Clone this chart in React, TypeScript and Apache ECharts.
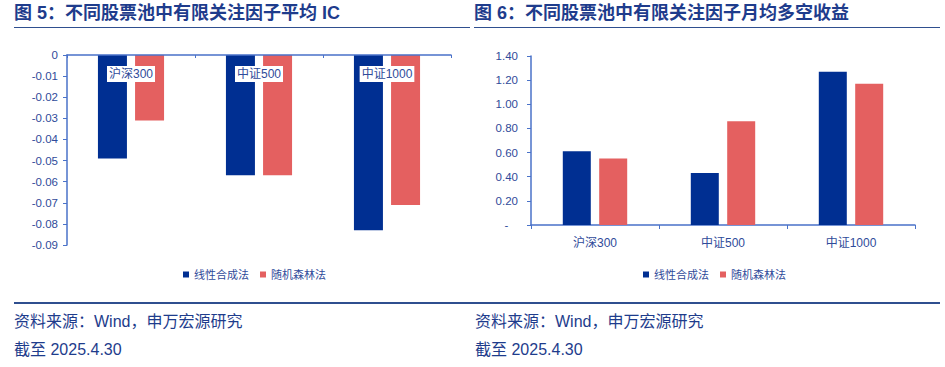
import React, { useEffect, useRef } from "react";
import * as echarts from "echarts";

const categories = ["沪深300", "中证500", "中证1000"];
const seriesNames = ["线性合成法", "随机森林法"];
const icLinear = [-0.049, -0.057, -0.083];
const icForest = [-0.031, -0.057, -0.071];
const retLinear = [0.61, 0.43, 1.27];
const retForest = [0.55, 0.86, 1.17];
const titleLeft = "图 5：不同股票池中有限关注因子平均 IC";
const titleRight = "图 6：不同股票池中有限关注因子月均多空收益";
const sourceText = "资料来源：Wind，申万宏源研究";
const dateText = "截至 2025.4.30";

const BLUE = "#002f92";
const RED = "#e46060";
const AXIS = "#4a72c9";
const LABEL = "#2f4b9a";
const TITLE = "#1e3c8c";
const FONT = "'Liberation Sans', Arial, 'Noto Sans CJK SC', sans-serif";

export default function App() {
  const ref = useRef<HTMLDivElement>(null);
  useEffect(() => {
    const chart = echarts.init(ref.current!, null, { renderer: "svg" });
    const axisLabelBase = { color: LABEL, fontSize: 11, fontFamily: FONT };
    const legendBase = {
      data: seriesNames,
      top: 264,
      itemWidth: 6,
      itemHeight: 6,
      itemGap: 11,
      icon: "rect",
      textStyle: { color: LABEL, fontSize: 11, fontFamily: FONT },
    };
    chart.setOption({
      animation: false,
      textStyle: { fontFamily: FONT },
      grid: [
        { left: 67, right: 494, top: 55, bottom: 122 },
        { left: 531, right: 30, top: 56, bottom: 142 },
      ],
      xAxis: [
        {
          type: "category",
          gridIndex: 0,
          data: categories,
          position: "top",
          z: 10,
          axisLine: { lineStyle: { color: AXIS, width: 1.5 } },
          axisTick: { show: true, length: 3, inside: true, lineStyle: { color: AXIS } },
          axisLabel: {
            ...axisLabelBase,
            fontSize: 12,
            inside: true,
            margin: 11,
            backgroundColor: "#ffffff",
            padding: [2, 2, 2, 2],
          },
        },
        {
          type: "category",
          gridIndex: 1,
          data: categories,
          axisLine: { lineStyle: { color: AXIS, width: 1.5 } },
          axisTick: { show: true, length: 4, lineStyle: { color: AXIS } },
          axisLabel: { ...axisLabelBase, fontSize: 12, margin: 12 },
        },
      ],
      yAxis: [
        {
          type: "value",
          gridIndex: 0,
          min: -0.09,
          max: 0,
          interval: 0.01,
          splitLine: { show: false },
          axisLine: { show: true, lineStyle: { color: AXIS, width: 1.5 } },
          axisTick: { show: true, length: 4, lineStyle: { color: AXIS } },
          axisLabel: {
            ...axisLabelBase,
            fontSize: 11.5,
            margin: 9,
            formatter: (v: number) => (Math.abs(v) < 1e-9 ? "0" : v.toFixed(2)),
          },
        },
        {
          type: "value",
          gridIndex: 1,
          min: 0,
          max: 1.4,
          interval: 0.2,
          splitLine: { show: false },
          axisLine: { show: true, lineStyle: { color: AXIS, width: 1.5 } },
          axisTick: { show: true, length: 4, lineStyle: { color: AXIS } },
          axisLabel: {
            ...axisLabelBase,
            fontSize: 11.5,
            margin: 13,
            formatter: (v: number) => (Math.abs(v) < 1e-9 ? "-   " : v.toFixed(2)),
          },
        },
      ],
      legend: [
        { ...legendBase, left: 178 },
        { ...legendBase, left: 638 },
      ],
      series: [
        {
          name: seriesNames[0],
          type: "bar",
          xAxisIndex: 0,
          yAxisIndex: 0,
          data: icLinear,
          barWidth: 29,
          barGap: "28%",
          itemStyle: { color: BLUE },
        },
        {
          name: seriesNames[1],
          type: "bar",
          xAxisIndex: 0,
          yAxisIndex: 0,
          data: icForest,
          barWidth: 29,
          barGap: "28%",
          itemStyle: { color: RED },
        },
        {
          name: seriesNames[0],
          type: "bar",
          xAxisIndex: 1,
          yAxisIndex: 1,
          data: retLinear,
          barWidth: 28,
          barGap: "30%",
          itemStyle: { color: BLUE },
        },
        {
          name: seriesNames[1],
          type: "bar",
          xAxisIndex: 1,
          yAxisIndex: 1,
          data: retForest,
          barWidth: 28,
          barGap: "30%",
          itemStyle: { color: RED },
        },
      ],
      graphic: [
        {
          type: "text",
          left: 14,
          top: 4,
          style: { text: titleLeft, fill: TITLE, font: `bold 18px ${FONT}` },
        },
        {
          type: "text",
          left: 474,
          top: 4,
          style: { text: titleRight, fill: TITLE, font: `bold 18px ${FONT}` },
        },
        { type: "line", shape: { x1: 14, y1: 27.5, x2: 470, y2: 27.5 }, style: { stroke: "#2f4f8f", lineWidth: 1 } },
        { type: "line", shape: { x1: 474, y1: 27.5, x2: 940, y2: 27.5 }, style: { stroke: "#2f4f8f", lineWidth: 1 } },
        { type: "line", shape: { x1: 14, y1: 303, x2: 470, y2: 303 }, style: { stroke: "#2f4f8f", lineWidth: 2 } },
        { type: "line", shape: { x1: 470, y1: 303, x2: 940, y2: 303 }, style: { stroke: "#2f4f8f", lineWidth: 2 } },
        {
          type: "text",
          left: 14,
          top: 313,
          style: { text: sourceText, fill: TITLE, font: `16px ${FONT}` },
        },
        {
          type: "text",
          left: 475,
          top: 313,
          style: { text: sourceText, fill: TITLE, font: `16px ${FONT}` },
        },
        {
          type: "text",
          left: 14,
          top: 341,
          style: { text: dateText, fill: TITLE, font: `16px ${FONT}` },
        },
        {
          type: "text",
          left: 475,
          top: 341,
          style: { text: dateText, fill: TITLE, font: `16px ${FONT}` },
        },
      ],
    });
    return () => chart.dispose();
  }, []);
  return (
    <div
      ref={ref}
      style={{ position: "fixed", left: 0, top: 0, width: 945, height: 367, background: "#fff" }}
    />
  );
}
